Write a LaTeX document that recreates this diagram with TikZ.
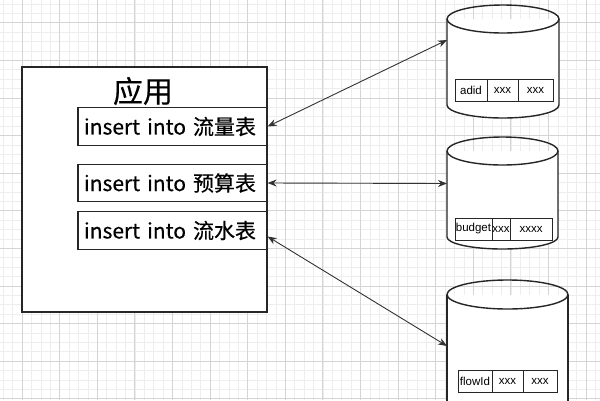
\documentclass[tikz,border=0pt]{standalone}
\usepackage{fontspec}
\setmainfont{Liberation Sans}
\newfontfamily\cjk[FakeBold=0.4]{Noto Sans CJK SC}
\usetikzlibrary{arrows.meta}
\begin{document}
\begin{tikzpicture}[x=1pt,y=-1pt,
  minorgrid/.style={draw=black!7, line width=0.6pt},
  majorgrid/.style={draw=black!17, line width=0.7pt},
  appbox/.style={draw=black!85, line width=1.3pt},
  sqlbox/.style={draw=black!85, line width=1.2pt, minimum width=189pt, minimum height=37.5pt,
    inner xsep=6pt, inner ysep=0pt, text width=177pt, align=left,
    font=\cjk\fontsize{21}{21}\selectfont},
  titletext/.style={font=\cjk\fontsize{30}{30}\selectfont, inner sep=0pt},
  dbline/.style={draw=black!85, line width=1.4pt},
  cell/.style={draw=black!85, line width=0.9pt, minimum height=22pt, inner sep=0pt,
    font=\fontsize{11.5}{11.5}\selectfont},
  link/.style={draw=black!80, line width=0.9pt, {Stealth[length=9pt,width=7pt]}-{Stealth[length=9pt,width=7pt]}}
]
\useasboundingbox (0,0) rectangle (600,400);
\fill[white] (0,0) rectangle (600,400);
% grid
\foreach \i in {0,...,63} {
  \draw[minorgrid] ({3.2+9.4*\i},0) -- ({3.2+9.4*\i},400);
}
\foreach \i in {0,...,42} {
  \draw[minorgrid] (0,{3.9+9.4*\i}) -- (600,{3.9+9.4*\i});
}
\foreach \i in {0,...,15} {
  \draw[majorgrid] ({22+37.6*\i},0) -- ({22+37.6*\i},400);
}
\foreach \i in {0,...,10} {
  \draw[majorgrid] (0,{22.7+37.6*\i}) -- (600,{22.7+37.6*\i});
}

% application box
\draw[appbox, fill=white] (22,67) rectangle (267,312);
\node[titletext] (title) at (143,91) {应用};
\node[sqlbox] (q1) at (172.5,126.5) {insert into 流量表};
\node[sqlbox] (q2) at (172.5,183) {insert into 预算表};
\node[sqlbox] (q3) at (172.5,230.5) {insert into 流水表};

% cylinder 1
\fill[white] (447,19) -- (447,105) arc[start angle=180, end angle=360, x radius=56, y radius=-13] -- (559,19) -- cycle;
\draw[dbline] (503,19) ellipse[x radius=56, y radius=14];
\draw[dbline] (447,19) -- (447,105) arc[start angle=180, end angle=360, x radius=56, y radius=-13] -- (559,19);
\node[cell, minimum width=32pt] (c11) at (471,90.5) {adid};
\node[cell, minimum width=31pt] (c12) at (502.5,90.5) {xxx};
\node[cell, minimum width=35pt] (c13) at (535.5,90.5) {xxx};

% cylinder 2
\fill[white] (447,151) -- (447,237) arc[start angle=180, end angle=360, x radius=55.5, y radius=-12] -- (558,151) -- cycle;
\draw[dbline] (502.5,151) ellipse[x radius=55.5, y radius=14];
\draw[dbline] (447,151) -- (447,237) arc[start angle=180, end angle=360, x radius=55.5, y radius=-12] -- (558,151);
\node[cell, minimum width=37pt] (c21) at (473.5,229) {budget};
\node[cell, minimum width=18pt] (c22) at (501,229) {xxx};
\node[cell, minimum width=42pt] (c23) at (531,229) {xxxx};

% cylinder 3
\fill[white] (447,294.5) -- (447,400) -- (568,400) -- (568,294.5) -- cycle;
\draw[dbline] (507.5,294.5) ellipse[x radius=60.5, y radius=14.5];
\draw[dbline] (447,294.5) -- (447,401);
\draw[dbline] (568,294.5) -- (568,401);
\node[cell, minimum width=34pt] (c31) at (475,381.5) {flowId};
\node[cell, minimum width=31pt] (c32) at (507.5,381.5) {xxx};
\node[cell, minimum width=34pt] (c33) at (540,381.5) {xxx};

% connector end points on the cylinders
\coordinate (d1) at (447,40);
\coordinate (d2) at (447,183.5);
\coordinate (d3) at (447,346);
\coordinate (e3) at (267.6,236.5);

\draw[link] (q1.east) -- (d1);
\draw[link] (q2.east) -- (d2);
\draw[link] (e3) -- (d3);
\end{tikzpicture}
\end{document}
